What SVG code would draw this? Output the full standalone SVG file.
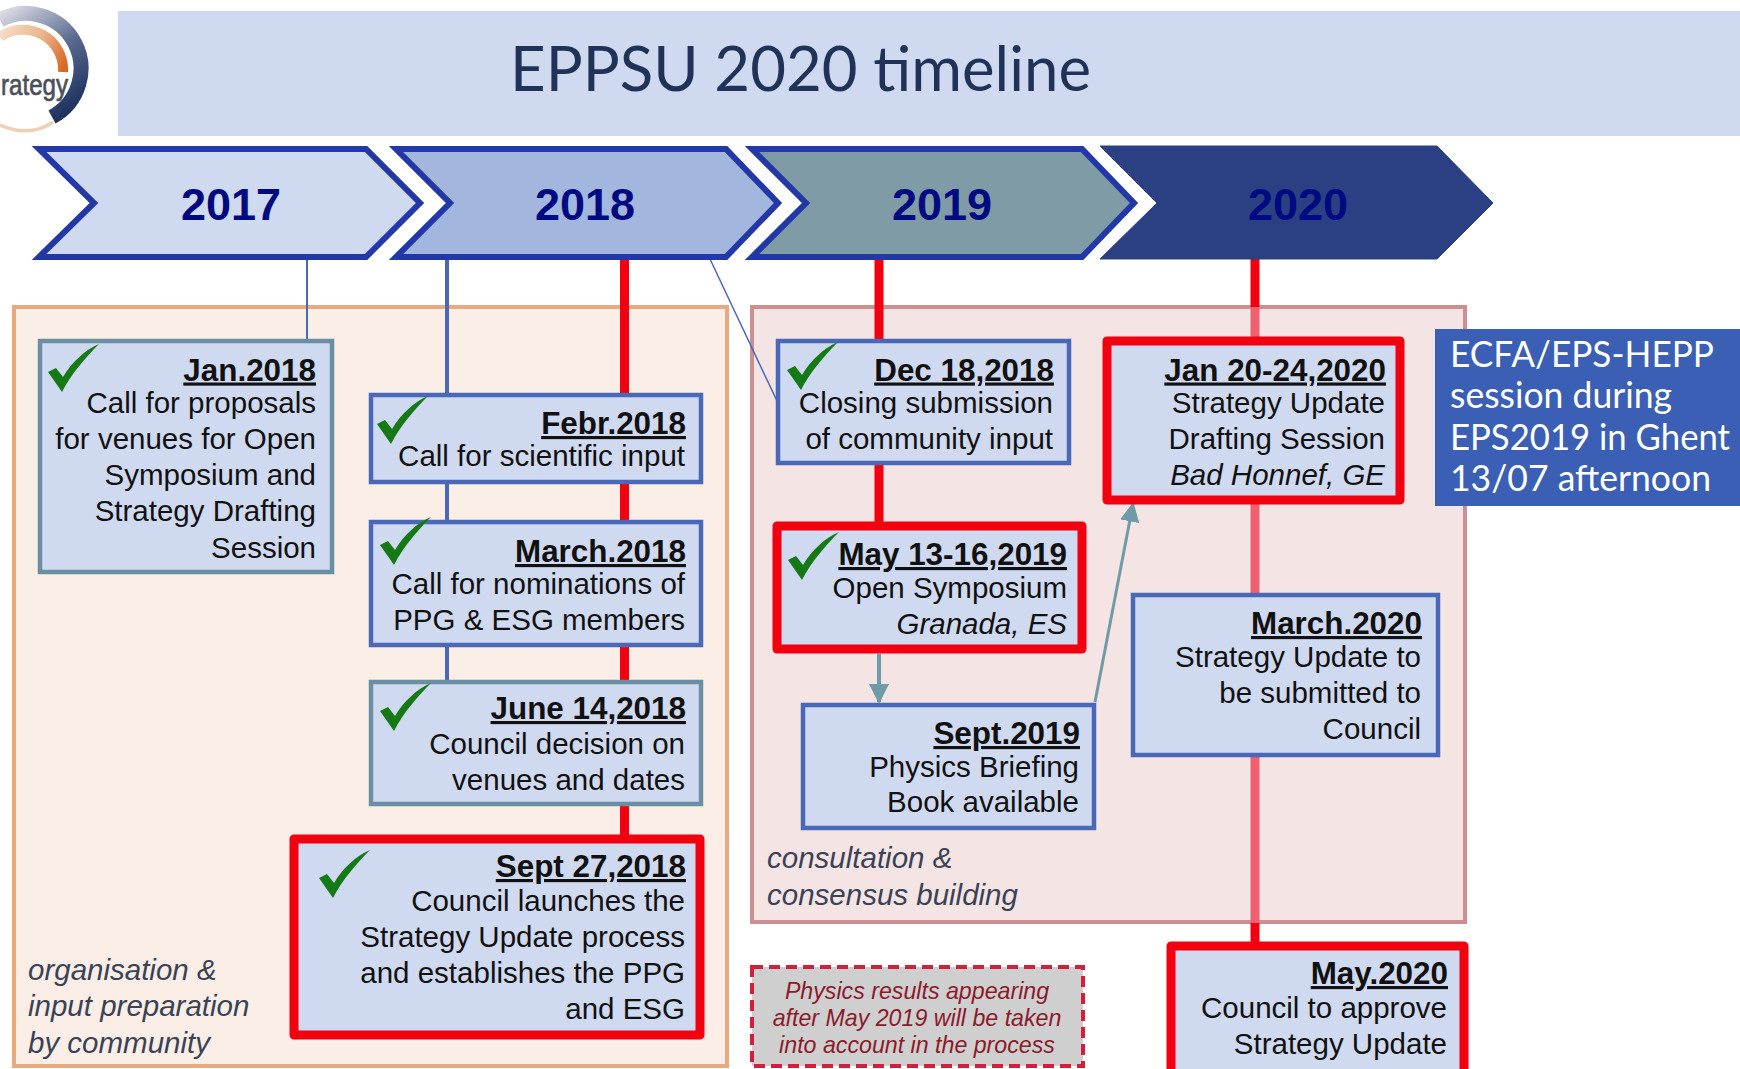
<svg xmlns="http://www.w3.org/2000/svg" width="1740" height="1069" viewBox="0 0 1740 1069">
<defs>
<style>
text{font-family:"Liberation Sans",Arial,sans-serif;fill:#111}
.b{font-size:29.5px;text-anchor:end}
.d{font-size:31.4px;text-anchor:end;font-weight:bold;text-decoration:underline}
.i{font-style:italic}
.l{font-size:29.5px;font-style:italic;fill:#3a4256}
.y{font-size:45px;font-weight:bold;text-anchor:middle;fill:#000a80}
.c{font-family:Lato,"Noto Sans",sans-serif}
.box{fill:#cfd9f0;stroke-width:4.5}
.blue{stroke:#4a68b8}
.teal{stroke:#6a8fa5}
.red{stroke:#f2000f;stroke-width:9;stroke-linejoin:round}
.chev{stroke:#2338a8;stroke-width:6;stroke-linejoin:miter}
.n{text-anchor:middle;font-style:italic;font-size:23.2px;fill:#8b1a2a}
.e{fill:#fff;font-size:36px}
</style>
<path id="chk" fill="#157a15" d="M-51,28 L-43,24 L-36,33 C-27,18 -14,6 0,0 C-13,13 -28,30 -37,48 Z"/>
<linearGradient id="ring" gradientUnits="userSpaceOnUse" x1="0" y1="15" x2="70" y2="115"><stop offset="0" stop-color="#d8d9e2"/><stop offset=".5" stop-color="#5a6a90"/><stop offset="1" stop-color="#1b2f5c"/></linearGradient>
<linearGradient id="arc" gradientUnits="userSpaceOnUse" x1="0" y1="35" x2="63" y2="72"><stop offset="0" stop-color="#f6dcc6"/><stop offset=".5" stop-color="#eab48c"/><stop offset="1" stop-color="#d9651f"/></linearGradient>
<marker id="ah" viewBox="0 0 10 10" refX="9" refY="5" markerWidth="5" markerHeight="5" orient="auto"><path d="M0,0L10,5L0,10Z" fill="#6f9aa8"/></marker>
<marker id="ah2" viewBox="0 0 10 10" refX="9" refY="5" markerWidth="6.500" markerHeight="6.500" orient="auto"><path d="M0,0L10,5L0,10Z" fill="#6f9aa8"/></marker>
</defs>
<rect width="1740" height="1069" fill="#fff"/>
<g id="logo">
<path d="M0,20 A55,55 0 0 1 52,117" fill="none" stroke="url(#ring)" stroke-width="15"/>
<path d="M0,125 Q30,138 53,122" fill="none" stroke="#f0cfb4" stroke-width="3.500"/>
<path d="M0,37 A40,40 0 0 1 63,72" fill="none" stroke="url(#arc)" stroke-width="10"/>
<text x="1" y="95" font-size="30" textLength="67" lengthAdjust="spacingAndGlyphs" stroke="#4a4f5a" stroke-width=".7" style="fill:#4a4f5a">rategy</text>
</g>
<g id="title">
<rect x="118" y="11" width="1622" height="125" fill="#cfd9f0"/>
<text class="c" x="510" y="91" font-size="62" textLength="581" lengthAdjust="spacingAndGlyphs" style="fill:#1f3358">EPPSU 2020 timeline</text>
</g>
<g id="panel-organisation"><rect x="14" y="307" width="713" height="759" fill="#fbeee6" stroke="#e8a97e" stroke-width="4"/></g>
<g id="panel-consultation"><rect x="752" y="307" width="713" height="615" fill="#f5e4e4" stroke="#cc8f92" stroke-width="4"/></g>
<g id="connectors" fill="none">
<path d="M307,259V340" stroke="#4a68b8" stroke-width="2"/>
<path d="M447,259V682" stroke="#4a68b8" stroke-width="4"/>
<path d="M624.500,259V836" stroke="#f2000f" stroke-width="9"/>
<path d="M710,259L777,401" stroke="#4a68b8" stroke-width="1.500"/>
<path d="M879,259V525" stroke="#f2000f" stroke-width="9"/>
<path d="M879,654V702" stroke="#6f9aa8" stroke-width="4" marker-end="url(#ah)"/>
<path d="M1095,702L1133,504" stroke="#6f9aa8" stroke-width="3" marker-end="url(#ah2)"/>
<path d="M1255,259V307M1255,923V945" stroke="#f2000f" stroke-width="9"/>
<path d="M1255,307V923" stroke="#f0606e" stroke-width="9"/>
</g>
<g id="year-2017"><path class="chev" fill="#cfd9f0" d="M39,149H366L420,203L366,257H39L94,203Z"/><text class="y" x="231" y="220">2017</text></g>
<g id="year-2018"><path class="chev" fill="#a3b6de" d="M396,149H726L778,203L726,257H396L450,203Z"/><text class="y" x="585" y="220">2018</text></g>
<g id="year-2019"><path class="chev" fill="#7f9ba5" d="M752,149H1082L1134,203L1082,257H752L806,203Z"/><text class="y" x="942" y="220">2019</text></g>
<g id="year-2020"><path fill="#2a4083" stroke="#2a4083" d="M1100,146H1437L1493,203L1437,259H1100L1157,203Z"/><text class="y" x="1298" y="220">2020</text></g>
<g id="jan2018"><rect class="box teal" x="40" y="341" width="292" height="231"/><use href="#chk" x="99" y="344"/>
<text class="d" x="316" y="380.500">Jan.2018</text><text class="b" x="316" y="413">Call for proposals</text><text class="b" x="316" y="449">for venues for Open</text><text class="b" x="316" y="485">Symposium and</text><text class="b" x="316" y="521">Strategy Drafting</text><text class="b" x="316" y="558">Session</text></g>
<g id="feb2018"><rect class="box blue" x="371" y="395" width="330" height="87"/><use href="#chk" x="428" y="396"/>
<text class="d" x="686" y="434">Febr.2018</text><text class="b" x="685" y="466">Call for scientific input</text></g>
<g id="mar2018"><rect class="box blue" x="371" y="522" width="330" height="123"/><use href="#chk" x="431" y="517"/>
<text class="d" x="686" y="562">March.2018</text><text class="b" x="685" y="594">Call for nominations of</text><text class="b" x="685" y="630">PPG &amp; ESG members</text></g>
<g id="jun2018"><rect class="box teal" x="371" y="682" width="330" height="122"/><use href="#chk" x="431" y="683"/>
<text class="d" x="686" y="719">June 14,2018</text><text class="b" x="685" y="754">Council decision on</text><text class="b" x="685" y="790">venues and dates</text></g>
<g id="sep2018"><rect class="box red" x="294" y="839" width="406" height="196"/><use href="#chk" x="370" y="850"/>
<text class="d" x="686" y="877">Sept 27,2018</text><text class="b" x="685" y="911">Council launches the</text><text class="b" x="685" y="947">Strategy Update process</text><text class="b" x="685" y="983">and establishes the PPG</text><text class="b" x="685" y="1019">and ESG</text></g>
<g id="dec2018"><rect class="box blue" x="778" y="341" width="291" height="122"/><use href="#chk" x="838" y="342"/>
<text class="d" x="1054" y="380.500">Dec 18,2018</text><text class="b" x="1053" y="413">Closing submission</text><text class="b" x="1053" y="449">of community input</text></g>
<g id="may2019"><rect class="box red" x="777" y="526" width="305" height="123"/><use href="#chk" x="839" y="532"/>
<text class="d" x="1067" y="565">May 13-16,2019</text><text class="b" x="1067" y="598">Open Symposium</text><text class="b i" x="1067" y="634">Granada, ES</text></g>
<g id="sep2019"><rect class="box blue" x="803" y="705" width="291" height="123"/>
<text class="d" x="1080" y="744">Sept.2019</text><text class="b" x="1079" y="777">Physics Briefing</text><text class="b" x="1079" y="812">Book available</text></g>
<g id="jan2020"><rect class="box red" x="1107" y="341" width="293" height="159"/>
<text class="d" x="1386" y="380.500">Jan 20-24,2020</text><text class="b" x="1385" y="413">Strategy Update</text><text class="b" x="1385" y="449">Drafting Session</text><text class="b i" x="1385" y="485">Bad Honnef, GE</text></g>
<g id="mar2020"><rect class="box blue" x="1133" y="595" width="305" height="160"/>
<text class="d" x="1422" y="634">March.2020</text><text class="b" x="1421" y="667">Strategy Update to</text><text class="b" x="1421" y="703">be submitted to</text><text class="b" x="1421" y="739">Council</text></g>
<g id="may2020"><rect class="box red" x="1171" y="946" width="293" height="140"/>
<text class="d" x="1448" y="984">May.2020</text><text class="b" x="1447" y="1018">Council to approve</text><text class="b" x="1447" y="1054">Strategy Update</text></g>
<g id="ecfa"><rect x="1435" y="329" width="305" height="177" fill="#3a5fb5"/>
<text class="c e" x="1450" y="367" textLength="264" lengthAdjust="spacingAndGlyphs" style="fill:#fff">ECFA/EPS-HEPP</text><text class="c e" x="1450" y="408" textLength="222" lengthAdjust="spacingAndGlyphs" style="fill:#fff">session during</text><text class="c e" x="1450" y="450" textLength="280" lengthAdjust="spacingAndGlyphs" style="fill:#fff">EPS2019 in Ghent</text><text class="c e" x="1450" y="491" textLength="261" lengthAdjust="spacingAndGlyphs" style="fill:#fff">13/07 afternoon</text></g>
<g id="note"><rect x="752" y="967" width="331" height="99" fill="#cfcfcf" stroke="#d21f3c" stroke-width="4" stroke-dasharray="11 6"/>
<text class="n" x="917" y="999" style="fill:#8b1a2a">Physics results appearing</text><text class="n" x="917" y="1026" style="fill:#8b1a2a">after May 2019 will be taken</text><text class="n" x="917" y="1053" style="fill:#8b1a2a">into account in the process</text></g>
<g id="label-organisation"><text class="l" x="28" y="980" style="fill:#3a4256">organisation &amp;</text><text class="l" x="28" y="1016" style="fill:#3a4256">input preparation</text><text class="l" x="28" y="1053" style="fill:#3a4256">by community</text></g>
<g id="label-consultation"><text class="l" x="767" y="868" style="fill:#3a4256">consultation &amp;</text><text class="l" x="767" y="905" style="fill:#3a4256">consensus building</text></g>
</svg>
